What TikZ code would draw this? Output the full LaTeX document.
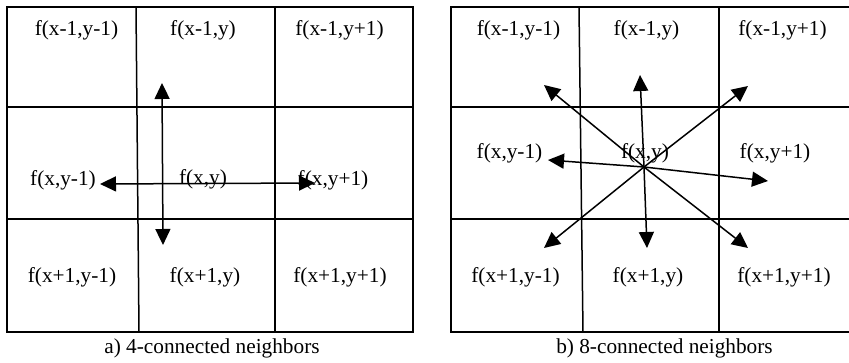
\documentclass[tikz,border=0pt]{standalone}
\usepackage{fontspec}
\setmainfont{Liberation Serif}
\usetikzlibrary{arrows.meta}
\begin{document}
\begin{tikzpicture}[x=1pt,y=-1pt,
  gridline/.style={line width=1.5pt,line cap=rect},
  lbl/.style={inner sep=0pt,font=\fontsize{21.3}{24}\selectfont},
  arr/.style={line width=1.5pt,-{Triangle[length=16pt,width=15pt]}},
  darr/.style={line width=1.5pt,{Triangle[length=16pt,width=15pt]}-{Triangle[length=16pt,width=15pt]}}]
\useasboundingbox[fill=white] (0,0) rectangle (849,363);
% ---- left grid ----
\draw[gridline] (7,7) rectangle (413,332);
\draw[gridline] (7,107) -- (413,107);
\draw[gridline] (7,219) -- (413,219);
\draw[gridline] (136,7) -- (139,332);
\draw[gridline] (275,7) -- (275,332);
\node[lbl] (a11) at (76.5,30) {f(x-1,y-1)};
\node[lbl] (a12) at (203,30) {f(x-1,y)};
\node[lbl] (a13) at (339.5,30) {f(x-1,y+1)};
\node[lbl] (a21) at (63,180) {f(x,y-1)};
\node[lbl] (a22) at (203,179) {f(x,y)};
\node[lbl] (a23) at (333,180) {f(x,y+1)};
\node[lbl] (a31) at (72,277) {f(x+1,y-1)};
\node[lbl] (a32) at (205,277) {f(x+1,y)};
\node[lbl] (a33) at (340,277) {f(x+1,y+1)};
\node[lbl] (capa) at (212,348) {a) 4-connected neighbors};
\coordinate (aL) at (100,184);
\coordinate (aR) at (315,183);
\coordinate (aU) at (162,83);
\coordinate (aD) at (163,245);
\draw[darr] (aL) -- (aR);
\draw[darr] (aU) -- (aD);
% ---- right grid ----
\draw[gridline] (849,7) -- (451,7) -- (451,332) -- (849,332);
\draw[gridline] (451,107) -- (849,107);
\draw[gridline] (451,219) -- (849,219);
\draw[gridline] (579,7) -- (583,332);
\draw[gridline] (719,7) -- (719,332);
\node[lbl] (b11) at (518.5,30) {f(x-1,y-1)};
\node[lbl] (b12) at (646.5,30) {f(x-1,y)};
\node[lbl] (b13) at (782.5,30) {f(x-1,y+1)};
\node[lbl] (b21) at (509.5,153) {f(x,y-1)};
\node[lbl] (b22) at (645,153) {f(x,y)};
\node[lbl] (b23) at (775,153) {f(x,y+1)};
\node[lbl] (b31) at (515.5,277) {f(x+1,y-1)};
\node[lbl] (b32) at (648,277) {f(x+1,y)};
\node[lbl] (b33) at (784,277) {f(x+1,y+1)};
\node[lbl] (capb) at (664.5,348) {b) 8-connected neighbors};
\coordinate (bc) at (644,167);
\coordinate (bUL) at (544,85);
\coordinate (bU) at (640,75);
\coordinate (bUR) at (748,86);
\coordinate (bL) at (548,160);
\coordinate (bR) at (768,181);
\coordinate (bDL) at (544,248);
\coordinate (bD) at (647,248);
\coordinate (bDR) at (748,248);
\foreach \t in {bUL,bU,bUR,bL,bR,bDL,bD,bDR}
  \draw[arr] (bc) -- (\t);
\end{tikzpicture}
\end{document}
